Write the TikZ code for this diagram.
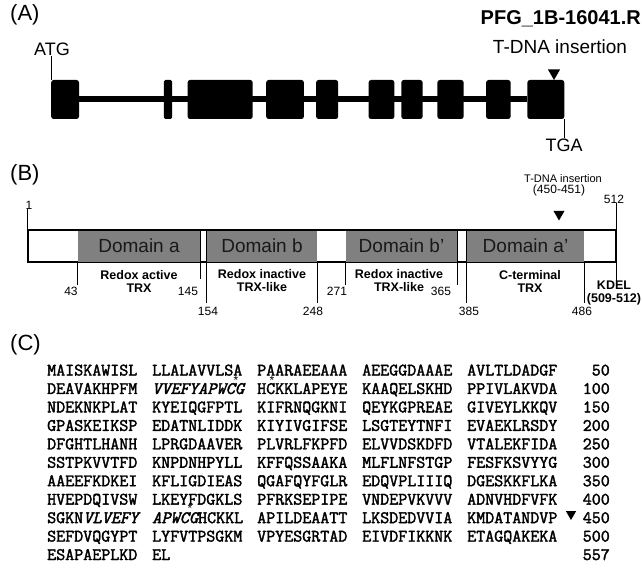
\documentclass[tikz,border=0pt]{standalone}
\usepackage{fontspec}
\setmainfont{Liberation Sans}
\newfontfamily\seqfont{Latin Modern Mono}[FakeBold=2]
\usetikzlibrary{shapes.geometric}
\definecolor{domgray}{RGB}{128,128,128}
\tikzset{
  exon/.style={fill=black, rounded corners=2.5pt, inner sep=0pt, minimum height=39pt},
  panel/.style={font=\fontsize{22}{24}\selectfont, inner sep=0pt, anchor=west},
  glbl/.style={font=\fontsize{18}{20}\selectfont, inner sep=0pt},
  dom/.style={fill=domgray, inner sep=0pt, minimum height=31pt, font=\fontsize{19}{21}\selectfont, text=black!90},
  sublbl/.style={font=\bfseries\fontsize{12.5}{13}\selectfont, inner sep=0pt, align=center},
  numlbl/.style={font=\fontsize{12}{13}\selectfont, inner sep=0pt},
  tk/.style={line width=0.9pt},
  tri/.style={regular polygon, regular polygon sides=3, shape border rotate=180, fill=black, inner sep=0pt, minimum size=14pt},
  seqtxt/.style={font=\seqfont\fontsize{17.5}{19}\selectfont, inner sep=0pt, anchor=base west},
  seqnum/.style={font=\seqfont\fontsize{17.5}{19}\selectfont, inner sep=0pt, anchor=base east},
  astx/.style={font=\fontsize{12}{13}\selectfont, inner sep=0pt},
}
\newcommand\seqrow[7]{%
  \node[seqtxt] (r#1a) at (47,{375.5+(#1-1)*18.45}) {#2};
  \node[seqtxt] (r#1b) at (152,{375.5+(#1-1)*18.45}) {#3};
  \node[seqtxt] (r#1c) at (257,{375.5+(#1-1)*18.45}) {#4};
  \node[seqtxt] (r#1d) at (362,{375.5+(#1-1)*18.45}) {#5};
  \node[seqtxt] (r#1e) at (467,{375.5+(#1-1)*18.45}) {#6};
  \node[seqnum] (r#1n) at (610,{375.5+(#1-1)*18.45}) {#7};
}
\begin{document}
\begin{tikzpicture}[x=1pt,y=-1pt]
\useasboundingbox (0,0) rectangle (642,575);
\fill[white] (0,0) rectangle (642,575);

% ---------------- (A) gene model ----------------
\node[panel] (pA) at (10,15) {(A)};
\node[exon, minimum width=27.8pt] (e1) at (65.1,99.5) {};
\node[exon, minimum width=8.2pt, rounded corners=1.5pt] (e2) at (167.9,99.5) {};
\node[exon, minimum width=65.1pt] (e3) at (220.15,99.5) {};
\node[exon, minimum width=37.7pt] (e4) at (285.05,99.5) {};
\node[exon, minimum width=22.1pt] (e5) at (327.15,99.5) {};
\node[exon, minimum width=25.8pt] (e6) at (381.5,99.5) {};
\node[exon, minimum width=21.3pt] (e7) at (411.95,99.5) {};
\node[exon, minimum width=26.2pt] (e8) at (450.5,99.5) {};
\node[exon, minimum width=24.5pt] (e9) at (498.35,99.5) {};
\node[exon, minimum width=36.9pt] (e10) at (545.85,99.5) {};
\draw[line width=6pt] (e1.east) -- (e10.west);

\node[glbl] (atg) at (52,49) {ATG};
\draw[tk] (e1.north west) -- (e1.north west |- atg.south);
\node[glbl] (tga) at (564,145) {TGA};
\draw[tk] (e10.south east) -- (e10.south east |- tga.north);
\node[tri] (triA) at (554,73) {};
\node[font=\fontsize{19}{21}\selectfont, inner sep=0pt] (tdnaA) at (560,47) {T-DNA insertion};
\node[font=\bfseries\fontsize{20}{22}\selectfont, inner sep=0pt, anchor=east] (pfg) at (641,19) {PFG\_1B-16041.R};

% ---------------- (B) protein domains ----------------
\node[panel] (pB) at (10,175) {(B)};
\node[draw, fill=white, line width=1.2pt, minimum width=588pt, minimum height=32pt, inner sep=0pt] (bar) at (322,246) {};
\node[dom, minimum width=122pt] (da) at (139,246) {Domain a};
\node[dom, minimum width=110pt] (db) at (262,246) {Domain b};
\node[dom, minimum width=111pt] (dbp) at (401.5,246) {Domain b'};
\node[dom, minimum width=117pt] (dap) at (525.5,246) {Domain a'};
\draw[line width=1.2pt] (bar.north west) rectangle (bar.south east);

\node[numlbl] (n1) at (29,205) {1};
\draw[tk] (bar.north west) -- (bar.north west |- n1.south);
\node[numlbl] (n512) at (614,199) {512};
\draw[tk] (bar.north east) -- (bar.north east |- n512.south);
\draw[tk] (bar.south east) -- ++(0,23);

\node[font=\fontsize{11}{12}\selectfont, inner sep=0pt] (tdnaB) at (563,179) {T-DNA insertion};
\node[font=\fontsize{12}{13}\selectfont, inner sep=0pt] (posB) at (559,190) {(450-451)};
\node[tri, minimum size=13pt] (triB) at (559,214) {};

% tick marks below the bar
\draw[tk] (da.south west) -- ++(0,23);
\draw[tk] (da.north east) -- ++(0,49);
\draw[tk] (db.north west) -- ++(0,73);
\draw[tk] (db.south east) -- ++(0,41);
\draw[tk] (dbp.south west) -- ++(0,23);
\draw[tk] (dbp.north east) -- ++(0,55);
\draw[tk] (dap.north west) -- ++(0,73);
\draw[tk] (dap.south east) -- ++(0,41);

\node[numlbl] (n43) at (71,291) {43};
\node[numlbl] (n145) at (188,291) {145};
\node[numlbl] (n271) at (337,291) {271};
\node[numlbl] (n365) at (441,291) {365};
\node[numlbl] (n154) at (208,311) {154};
\node[numlbl] (n248) at (313,311) {248};
\node[numlbl] (n385) at (469,311) {385};
\node[numlbl] (n486) at (582,311) {486};

\node[sublbl] (ra) at (139,281) {Redox active\\TRX};
\node[sublbl] (rb) at (262,281) {Redox inactive\\TRX-like};
\node[sublbl] (rbp) at (399,281) {Redox inactive\\TRX-like};
\node[sublbl] (rap) at (530,281) {C-terminal\\TRX};
\node[sublbl] (kdel) at (614,293) {KDEL\\(509-512)};

% ---------------- (C) sequence ----------------
\node[panel] (pC) at (10,345) {(C)};
\seqrow{1}{MAISKAWISL}{LLALAVVLSA}{PAARAEEAAA}{AEEGGDAAAE}{AVLTLDADGF}{50}
\seqrow{2}{DEAVAKHPFM}{\itshape VVEFYAPWCG}{HCKKLAPEYE}{KAAQELSKHD}{PPIVLAKVDA}{100}
\seqrow{3}{NDEKNKPLAT}{KYEIQGFPTL}{KIFRNQGKNI}{QEYKGPREAE}{GIVEYLKKQV}{150}
\seqrow{4}{GPASKEIKSP}{EDATNLIDDK}{KIYIVGIFSE}{LSGTEYTNFI}{EVAEKLRSDY}{200}
\seqrow{5}{DFGHTLHANH}{LPRGDAAVER}{PLVRLFKPFD}{ELVVDSKDFD}{VTALEKFIDA}{250}
\seqrow{6}{SSTPKVVTFD}{KNPDNHPYLL}{KFFQSSAAKA}{MLFLNFSTGP}{FESFKSVYYG}{300}
\seqrow{7}{AAEEFKDKEI}{KFLIGDIEAS}{QGAFQYFGLR}{EDQVPLIIIQ}{DGESKKFLKA}{350}
\seqrow{8}{HVEPDQIVSW}{LKEYFDGKLS}{PFRKSEPIPE}{VNDEPVKVVV}{ADNVHDFVFK}{400}
\seqrow{9}{SGKN{\itshape VLVEFY}}{{\itshape APWCG}HCKKL}{APILDEAATT}{LKSDEDVVIA}{KMDATANDVP}{450}
\seqrow{10}{SEFDVQGYPT}{LYFVTPSGKM}{VPYESGRTAD}{EIVDFIKKNK}{ETAGQAKEKA}{500}
\seqrow{11}{ESAPAEPLKD}{EL}{}{}{}{557}

\node[astx] (s1) at (236,380) {*};
\node[astx] (s2) at (272,380) {*};
\node[astx] (s3) at (190,508) {*};
\node[tri, minimum size=12pt] (triC) at (571,514) {};
\end{tikzpicture}
\end{document}
